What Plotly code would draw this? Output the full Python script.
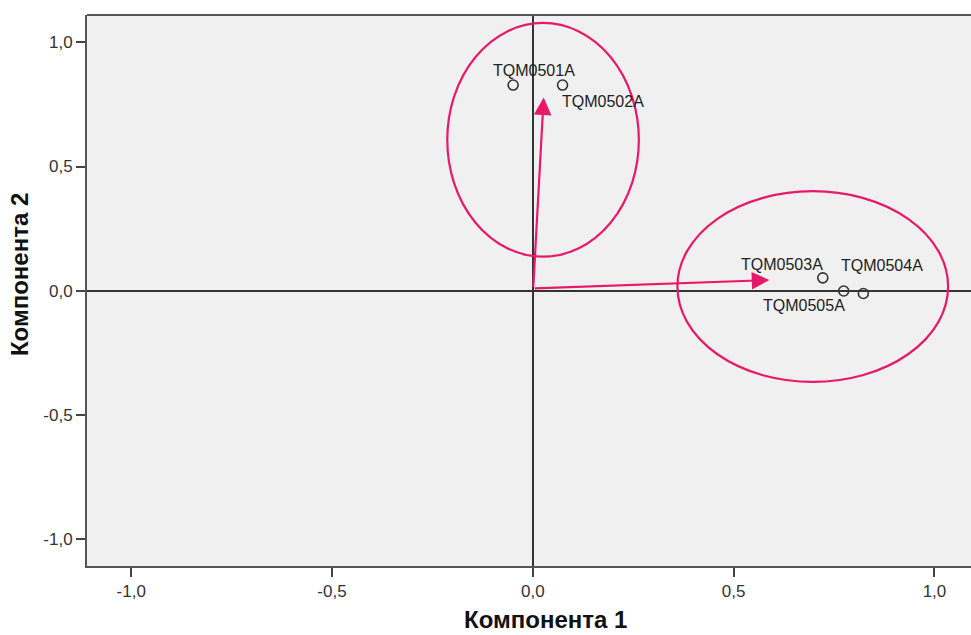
import plotly.graph_objects as go

# Component loadings (rotated component plot)
var_names = ["TQM0501A", "TQM0502A", "TQM0503A", "TQM0504A", "TQM0505A"]
comp1 = [-0.049, 0.074, 0.722, 0.823, 0.774]
comp2 = [0.828, 0.828, 0.052, -0.011, -0.001]

# Label offsets in pixels (dx, dy) relative to each point
label_dx = [21, 40, -41, 19, -40]
label_dy = [15, -16, 13, 28, -14]

# Direction arrows for the two groups
arrow_start = (0.001, 0.009)
arrow_tip_x = [0.027, 0.589]
arrow_tip_y = [0.778, 0.043]

# Group ellipses: (x0, y0, x1, y1)
ellipses = [(-0.213, 0.137, 0.264, 1.078), (0.360, -0.367, 1.034, 0.401)]

tick_vals = [-1.0, -0.5, 0.0, 0.5, 1.0]
tick_text = ["-1,0", "-0,5", "0,0", "0,5", "1,0"]

PINK = "#E8196A"
FONT = "Liberation Sans, Arial, sans-serif"

fig = go.Figure()
fig.add_trace(go.Scatter(
    x=comp1, y=comp2, mode="markers",
    marker=dict(symbol="circle-open", size=10, color="#333333", line=dict(width=1.6)),
    hoverinfo="text", text=var_names, showlegend=False,
))

annotations = []
for name, x, y, dx, dy in zip(var_names, comp1, comp2, label_dx, label_dy):
    annotations.append(dict(
        x=x, y=y, xref="x", yref="y", text=name, showarrow=False,
        xanchor="center", yanchor="middle", xshift=dx, yshift=dy,
        font=dict(family=FONT, size=16, color="#222222"),
    ))

for tx, ty in zip(arrow_tip_x, arrow_tip_y):
    annotations.append(dict(
        x=tx, y=ty, ax=arrow_start[0], ay=arrow_start[1],
        xref="x", yref="y", axref="x", ayref="y", text="",
        showarrow=True, arrowhead=2, arrowsize=1.6, arrowwidth=2.2,
        arrowcolor=PINK,
    ))

annotations.append(dict(
    text="<b>Компонента 1</b>", xref="paper", yref="paper", x=0.519, y=0,
    xanchor="center", yanchor="middle", yshift=-53, showarrow=False,
    font=dict(family=FONT, size=24, color="#111111"),
))
annotations.append(dict(
    text="<b>Компонента 2</b>", xref="paper", yref="paper", x=0, y=0.528,
    xanchor="center", yanchor="middle", xshift=-68, textangle=-90, showarrow=False,
    font=dict(family=FONT, size=24, color="#111111"),
))

shapes = []
for x0, y0, x1, y1 in ellipses:
    shapes.append(dict(type="circle", xref="x", yref="y", x0=x0, y0=y0, x1=x1, y1=y1,
                       line=dict(color=PINK, width=2.2), layer="above"))
# top frame line
shapes.append(dict(type="line", xref="paper", yref="paper", x0=0, x1=1, y0=1, y1=1,
                   line=dict(color="#555555", width=2)))

axis_common = dict(
    tickvals=tick_vals, ticktext=tick_text, ticks="outside", ticklen=9, tickwidth=2,
    tickcolor="#444444", showgrid=False, zeroline=True, zerolinecolor="#333333",
    zerolinewidth=2, showline=True, linecolor="#555555", linewidth=2,
    tickfont=dict(family=FONT, size=17, color="#333333"),
)

fig.update_layout(
    width=971, height=635,
    margin=dict(l=87, r=0, t=15, b=69),
    paper_bgcolor="white", plot_bgcolor="#F0F0F0",
    xaxis=dict(range=[-1.11, 1.091], **axis_common),
    yaxis=dict(range=[-1.108, 1.11], **axis_common),
    annotations=annotations, shapes=shapes,
)

fig.write_html("out.html")
